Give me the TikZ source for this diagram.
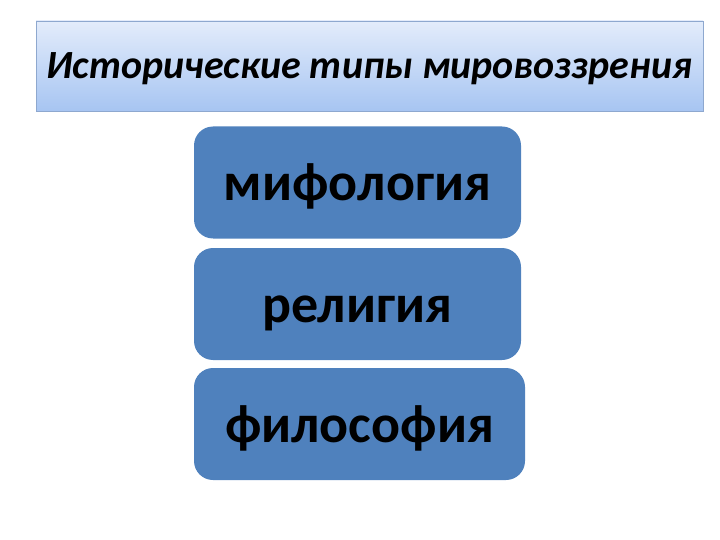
\documentclass[tikz,border=0pt]{standalone}
\usepackage{fontspec}
\setmainfont{Carlito}
\definecolor{boxblue}{HTML}{4F81BD}
\definecolor{ttop}{HTML}{E3ECFB}
\definecolor{tbot}{HTML}{A7C5F2}
\definecolor{tborder}{HTML}{8EA8CF}
\tikzset{
  titlebox/.style={draw=tborder, line width=0.8pt, top color=ttop, bottom color=tbot, minimum width=667pt, minimum height=90pt, inner sep=0pt},
  titletext/.style={anchor=base, inner sep=0pt, font=\fontsize{40}{46}\selectfont\bfseries\itshape},
  itembox/.style={fill=boxblue, rounded corners=19pt, minimum width=327pt, minimum height=112pt, inner sep=0pt},
  itemtext/.style={anchor=base, inner sep=0pt, font=\fontsize{54}{60}\selectfont\bfseries}
}
\begin{document}
\begin{tikzpicture}[x=1pt,y=-1pt]
\useasboundingbox (0,0) rectangle (720,540);
\node[titlebox] (t) at (369.5,66) {};
\node[titletext] (tt) at (369.5,79) {Исторические типы мировоззрения};
\node[itembox] (a) at (357.5,182.5) {};
\node[itemtext] (at) at (357.5,200.5) {мифология};
\node[itembox] (b) at (357.5,304) {};
\node[itemtext] (bt) at (357.5,322) {религия};
\node[itembox, minimum width=331pt] (c) at (359.5,424) {};
\node[itemtext] (ct) at (359.5,442.5) {философия};
\end{tikzpicture}
\end{document}
